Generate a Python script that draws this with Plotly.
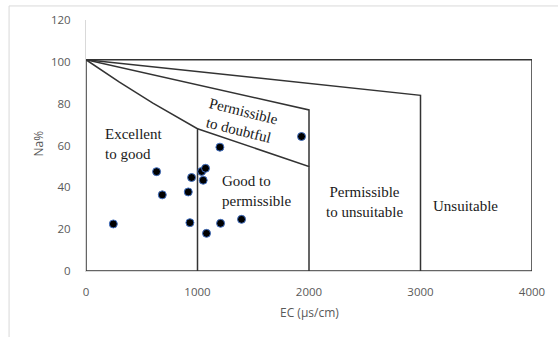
import plotly.graph_objects as go

# Sample points (EC, Na%)
ec = [245, 633, 684, 917, 932, 947, 1037, 1051, 1072, 1081, 1201, 1207, 1395, 1933]
na = [22.5, 47.5, 36.4, 37.8, 23.1, 44.7, 47.6, 43.4, 49.1, 18.0, 59.2, 22.8, 24.7, 64.3]

# Wilcox class boundaries
outer_x = [0, 4000, 4000, 0, 0]
outer_y = [101, 101, 0, 0, 101]
excellent_x = [0, 300, 600, 1000, 1000]
excellent_y = [101, 90.3, 80.3, 68, 0]
good_x = [1000, 2000, 2000]
good_y = [68, 50, 0]
doubtful_x = [0, 2000, 2000]
doubtful_y = [101, 77, 50]
unsuitable_x = [0, 3000, 3000]
unsuitable_y = [101, 84, 0]

x_ticks = [0, 1000, 2000, 3000, 4000]
y_ticks = [0, 20, 40, 60, 80, 100, 120]

zone_labels = ["Excellent<br>to good", "Permissible<br>to doubtful", "Good to<br>permissible",
               "Permissible<br>to unsuitable", "Unsuitable"]
zone_x = [152, 1389, 1201, 2500, 3405]
zone_y = [60.5, 71.8, 38.3, 33.2, 31.1]
zone_angle = [0, 14, 0, 0, 0]
zone_anchor = ["left", "center", "left", "center", "center"]
zone_align = ["left", "center", "left", "center", "center"]

fig = go.Figure()
line_style = dict(color="#333333", width=1.5)
for xs, ys in [(outer_x, outer_y), (excellent_x, excellent_y), (good_x, good_y),
               (doubtful_x, doubtful_y), (unsuitable_x, unsuitable_y)]:
    fig.add_trace(go.Scatter(x=xs, y=ys, mode="lines", line=line_style,
                             hoverinfo="skip", showlegend=False, cliponaxis=False))

fig.add_trace(go.Scatter(x=ec, y=na, mode="markers", showlegend=False,
                         marker=dict(size=8, color="black",
                                     line=dict(color="#4472C4", width=1))))

for t, x, y, a, anc, al in zip(zone_labels, zone_x, zone_y, zone_angle, zone_anchor, zone_align):
    fig.add_annotation(x=x, y=y, xref="x", yref="y", text=t, showarrow=False,
                       textangle=a, xanchor=anc, yanchor="middle", align=al,
                       font=dict(family="Liberation Serif", size=15, color="#1a1a1a"))

fig.add_annotation(x=2000, y=-0.167, xref="x", yref="paper", text="EC (µs/cm)",
                   showarrow=False, xanchor="center", yanchor="middle",
                   font=dict(family="Open Sans", size=12, color="#595959"))
fig.add_annotation(x=-0.1076, y=61, xref="paper", yref="y", text="Na%",
                   showarrow=False, textangle=-90, xanchor="center", yanchor="middle",
                   font=dict(family="Open Sans", size=12, color="#595959"))

# chart border
fig.add_shape(type="rect", xref="paper", yref="paper", x0=-0.1725, x1=1.3,
              y0=-0.5, y1=1.056, line=dict(color="#d9d9d9", width=1), layer="below")

fig.update_xaxes(range=[0, 4000], tickvals=x_ticks, showgrid=False, zeroline=False,
                 showline=True, linecolor="#d9d9d9", ticks="", ticklabelstandoff=10,
                 tickfont=dict(family="Open Sans", size=11.5, color="#595959"))
fig.update_yaxes(range=[0, 120], tickvals=y_ticks, showgrid=False, zeroline=False,
                 showline=True, linecolor="#d9d9d9", ticks="", ticklabelstandoff=12,
                 tickfont=dict(family="Open Sans", size=11.5, color="#595959"))

fig.update_layout(width=558, height=337, margin=dict(l=86, r=26, t=20, b=66),
                  plot_bgcolor="white", paper_bgcolor="white")

fig.write_html("out.html", config={"displayModeBar": False},
               post_script="document.body.style.margin='0';")
